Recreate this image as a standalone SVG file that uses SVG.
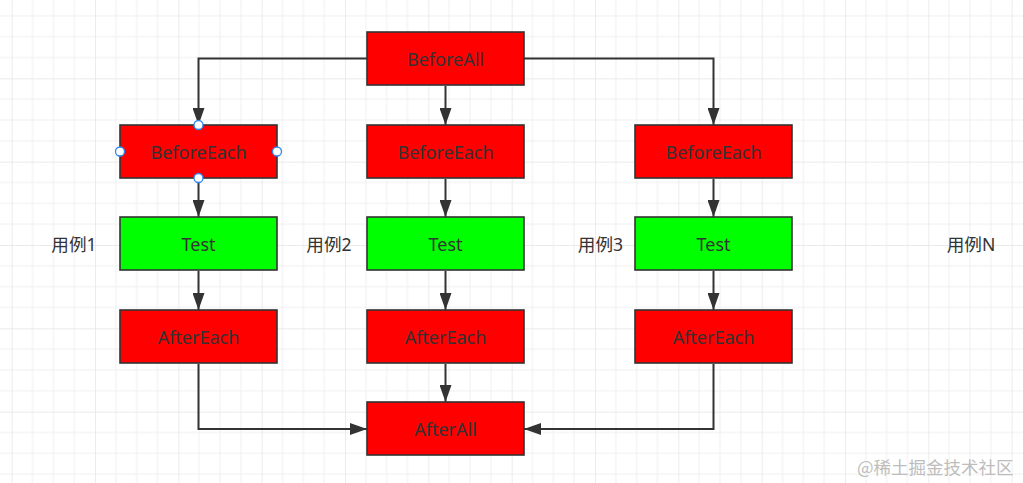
<svg xmlns="http://www.w3.org/2000/svg" width="1023" height="483" viewBox="0 0 1023 483">
  <style>
    .box { stroke: #333333; stroke-width: 1.6; }
    .red { fill: #ff0000; }
    .green { fill: #00ff00; }
    .lbl { font-family: "Noto Sans", "Noto Sans CJK SC", sans-serif; font-size: 18px; fill: #333333; text-anchor: middle; dominant-baseline: central; }
    .side { font-family: "Noto Sans", "Noto Sans CJK SC", sans-serif; font-size: 17.6px; fill: #333333; text-anchor: middle; dominant-baseline: central; }
    .edge { fill: none; stroke: #333333; stroke-width: 2; }
    .handle { fill: #ffffff; stroke: #2e86f0; stroke-width: 1.3; }
    .wm { font-family: "Noto Sans CJK SC", sans-serif; font-size: 17.5px; fill: #bdbdbd; }
  </style>
  <defs>
    <pattern id="grid" patternUnits="userSpaceOnUse" x="11.7" y="-5" width="83.33" height="83.33">
      <path d="M20.83 0V83.33M41.67 0V83.33M62.5 0V83.33M0 20.83H83.33M0 41.67H83.33M0 62.5H83.33" stroke="#efefef" stroke-width="1" fill="none"/>
      <path d="M0 0V83.33M0 0H83.33" stroke="#e4e4e4" stroke-width="1.4" fill="none"/>
    </pattern>
    <marker id="arr" markerUnits="userSpaceOnUse" markerWidth="18" markerHeight="12" refX="17" refY="6" orient="auto">
      <path d="M0 0L17 6L0 12Z" fill="#333333"/>
    </marker>
  </defs>
  <rect x="0" y="0" width="1023" height="483" fill="#ffffff"/>
  <rect x="0" y="0" width="1023" height="483" fill="url(#grid)"/>

  <g id="connectors">
    <path class="edge" marker-end="url(#arr)" d="M367 58.5H198.5V125"/>
    <path class="edge" marker-end="url(#arr)" d="M445.5 86V125"/>
    <path class="edge" marker-end="url(#arr)" d="M524 58.5H713.5V125"/>
    <path class="edge" marker-end="url(#arr)" d="M198.5 179V217"/>
    <path class="edge" marker-end="url(#arr)" d="M445.5 179V217"/>
    <path class="edge" marker-end="url(#arr)" d="M713.5 179V217"/>
    <path class="edge" marker-end="url(#arr)" d="M198.5 271V310"/>
    <path class="edge" marker-end="url(#arr)" d="M445.5 271V310"/>
    <path class="edge" marker-end="url(#arr)" d="M713.5 271V310"/>
    <path class="edge" marker-end="url(#arr)" d="M198.5 364V429H367"/>
    <path class="edge" marker-end="url(#arr)" d="M445.5 364V402"/>
    <path class="edge" marker-end="url(#arr)" d="M713.5 364V429H524"/>
  </g>

  <g id="beforeAll">
    <rect class="box red" x="367" y="32" width="157" height="53"/>
    <text class="lbl" x="445.5" y="58.5">BeforeAll</text>
  </g>

  <g id="beforeEach1">
    <rect class="box red" x="120" y="125" width="157" height="53"/>
    <text class="lbl" x="198.5" y="151.5">BeforeEach</text>
  </g>
  <g id="beforeEach2">
    <rect class="box red" x="367" y="125" width="157" height="53"/>
    <text class="lbl" x="445.5" y="151.5">BeforeEach</text>
  </g>
  <g id="beforeEach3">
    <rect class="box red" x="635" y="125" width="157" height="53"/>
    <text class="lbl" x="713.5" y="151.5">BeforeEach</text>
  </g>

  <g id="test1">
    <rect class="box green" x="120" y="217" width="157" height="53"/>
    <text class="lbl" x="198.5" y="243.5">Test</text>
  </g>
  <g id="test2">
    <rect class="box green" x="367" y="217" width="157" height="53"/>
    <text class="lbl" x="445.5" y="243.5">Test</text>
  </g>
  <g id="test3">
    <rect class="box green" x="635" y="217" width="157" height="53"/>
    <text class="lbl" x="713.5" y="243.5">Test</text>
  </g>

  <g id="afterEach1">
    <rect class="box red" x="120" y="310" width="157" height="53"/>
    <text class="lbl" x="198.5" y="336.5">AfterEach</text>
  </g>
  <g id="afterEach2">
    <rect class="box red" x="367" y="310" width="157" height="53"/>
    <text class="lbl" x="445.5" y="336.5">AfterEach</text>
  </g>
  <g id="afterEach3">
    <rect class="box red" x="635" y="310" width="157" height="53"/>
    <text class="lbl" x="713.5" y="336.5">AfterEach</text>
  </g>

  <g id="afterAll">
    <rect class="box red" x="367" y="402" width="157" height="53"/>
    <text class="lbl" x="445.5" y="428.5">AfterAll</text>
  </g>

  <g id="handles">
    <circle class="handle" cx="198.5" cy="125" r="4.5"/>
    <circle class="handle" cx="198.5" cy="178" r="4.5"/>
    <circle class="handle" cx="120" cy="151.5" r="4.5"/>
    <circle class="handle" cx="277" cy="151.5" r="4.5"/>
  </g>

  <g id="labels">
    <text class="side" x="74" y="244">用例1</text>
    <text class="side" x="329" y="244">用例2</text>
    <text class="side" x="600.5" y="244">用例3</text>
    <text class="side" x="971" y="244">用例N</text>
  </g>

  <text class="wm" x="857" y="474">@稀土掘金技术社区</text>
</svg>
